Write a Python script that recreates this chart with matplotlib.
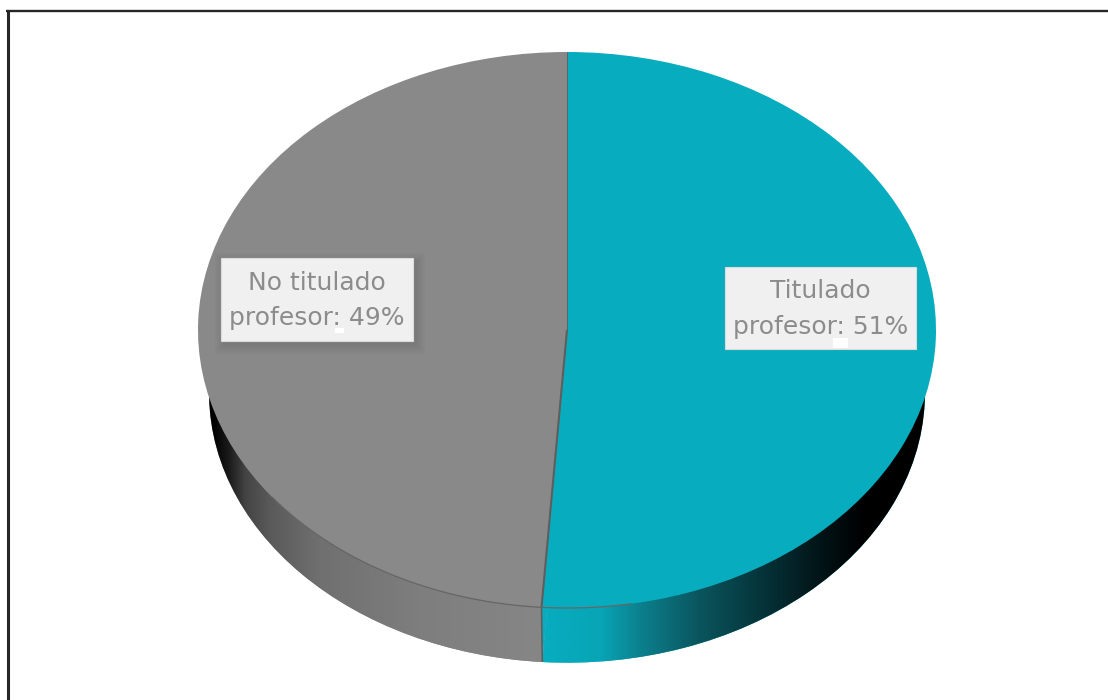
import numpy as np
import matplotlib
matplotlib.use("Agg")
import matplotlib.pyplot as plt
from matplotlib.colors import LinearSegmentedColormap
from matplotlib.patches import Rectangle

categories = ["Titulado\nprofesor", "No titulado\nprofesor"]
values = [51.1, 48.9]
colors = ["#07adbf", "#898989"]

W, H = 1108, 700
fig = plt.figure(figsize=(W / 100, H / 100), dpi=100, facecolor="white")

# overlay in pixel coordinates
px = fig.add_axes([0, 0, 1, 1], zorder=3)
px.set_xlim(0, W)
px.set_ylim(H, 0)
px.axis("off")
px.patch.set_alpha(0)

# pie axes: unit circle maps to the top ellipse
L, R, T, B = 198, 936, 52, 608
BOTTOM = 664
ry = (B - T) / 2
ax = fig.add_axes([L / W, 1 - BOTTOM / H, (R - L) / W, (BOTTOM - T) / H], zorder=1)
ylim = (-1 - (BOTTOM - B) / ry, 1)

# side wall: a slightly smaller, lower ellipse (perspective)
wall_radius = 0.970
wall_center = (0, -63 / ry)
wall, _ = ax.pie(values, startangle=90, counterclock=False, radius=wall_radius,
                 center=wall_center, colors=colors, frame=False,
                 wedgeprops=dict(linewidth=0))

def to_x(p):
    return (p - L) / (R - L) * 2 - 1

teal_stops = [(541, "#07adbf"), (600, "#07a5b6"), (640, "#0c808d"), (700, "#0a555d"),
              (765, "#053238"), (815, "#02171a"), (865, "#000000"), (936, "#000000")]
gray_stops = [(198, "#000000"), (212, "#000000"), (228, "#1a1a1a"), (245, "#444444"),
              (270, "#5a5a5a"), (320, "#707070"), (420, "#7e7e7e"), (541, "#868686")]

for wedge, stops in zip(wall, [teal_stops, gray_stops]):
    x0, x1 = stops[0][0], stops[-1][0]
    cmap = LinearSegmentedColormap.from_list(
        "w", [((p - x0) / (x1 - x0), c) for p, c in stops])
    im = ax.imshow(np.linspace(0, 1, 738)[None, :], cmap=cmap, aspect="auto",
                   extent=(to_x(x0), to_x(x1), ylim[0], ylim[1]), zorder=1.5)
    im.set_clip_path(wedge)

# top face
top, _ = ax.pie(values, startangle=90, counterclock=False, radius=1,
                colors=colors, frame=False,
                wedgeprops=dict(linewidth=0, zorder=2))
for w in top + wall:
    w.set_clip_on(False)

# seam between the slices, top face and wall, from the data
theta = np.deg2rad(values[0] / sum(values) * 360)
top_pt = np.array([np.sin(theta), np.cos(theta)])
wall_pt = np.array(wall_center) + wall_radius * top_pt
radial_x = wall_center[0] + (top_pt[1] - wall_center[1]) * np.tan(theta)
ax.fill([top_pt[0], wall_pt[0], radial_x], [top_pt[1], wall_pt[1], top_pt[1]],
        color=colors[0], lw=0, zorder=1.8)
ax.plot([0, top_pt[0]], [0, top_pt[1]], color="#5e5e5e", lw=1.5, zorder=3,
        solid_capstyle="butt")
ax.plot([0, 0], [0, 1], color="#5e5e5e", lw=0.6, zorder=3, solid_capstyle="butt")
ax.plot([wall_pt[0], top_pt[0]], [wall_pt[1], top_pt[1]],
        color="#5e5e5e", lw=1.2, zorder=3, solid_capstyle="butt")
arc = np.deg2rad(np.linspace(170, 233, 80))
ax.plot(np.sin(arc), np.cos(arc), color="#666666", lw=0.9, zorder=3)

ax.set_aspect("auto")
ax.set_xlim(-1, 1)
ax.set_ylim(*ylim)
ax.axis("off")

# data labels
boxes = [(725, 267, 191, 82), (221, 258, 192, 83)]
shadows = [False, True]
blobs = [(833, 338, 15, 10), (335, 328, 9, 5)]
for cat, val, (x, y, w, h), sh, blob in zip(categories, values, boxes, shadows, blobs):
    if sh:
        for off in range(9, 0, -2):
            px.add_patch(Rectangle((x - off + 3, y - off + 4), w + 2 * off, h + 2 * off,
                                   fc="black", ec="none", alpha=0.02))
    px.add_patch(Rectangle((x, y), w, h, fc="#f0f0f0", ec="#dcdcdc", lw=0.8))
    px.text(x + w / 2, y + h / 2 + 1, f"{cat}: {val:.0f}%", ha="center", va="center",
            color="#8c8c8c", fontsize=18, linespacing=1.62,
            family="DejaVu Sans")
    px.add_patch(Rectangle(blob[:2], blob[2], blob[3], fc="white", ec="none", zorder=4))

# frame fragments
px.plot([7.5, 7.5], [H, 10], color="#262626", lw=2.2, solid_capstyle="butt", clip_on=False)
px.plot([6, W], [11, 11], color="#262626", lw=1.7, solid_capstyle="butt", clip_on=False)

fig.savefig("out.png", dpi=100, facecolor="white")
